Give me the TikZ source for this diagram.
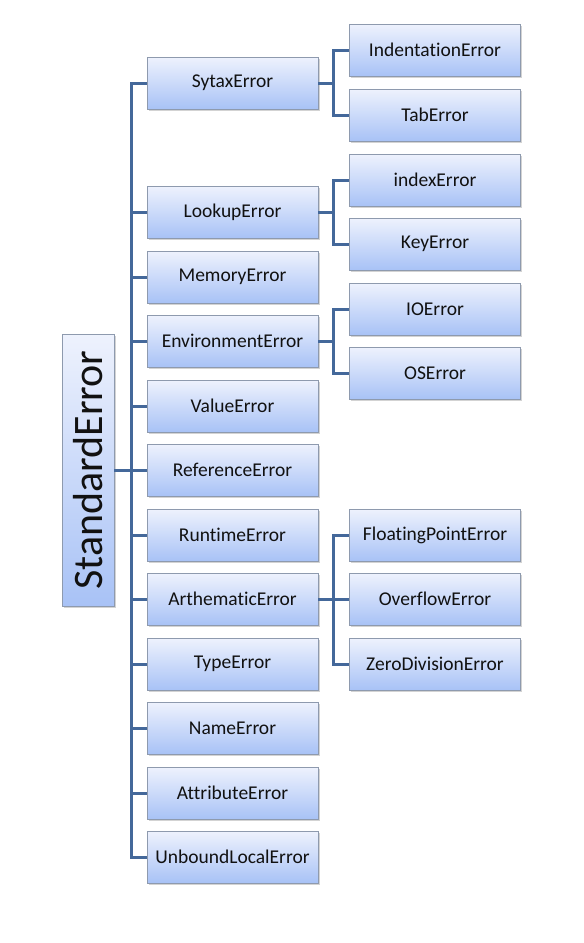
\documentclass[tikz,border=0pt]{standalone}
\usepackage{fontspec}
\setmainfont{Carlito}[Ligatures=NoCommon]
\usetikzlibrary{shadows}
\definecolor{linec}{HTML}{44689A}
\definecolor{boxtop}{HTML}{EEF2FD}
\definecolor{boxbot}{HTML}{A8C2F6}
\definecolor{boxborder}{HTML}{8E9AAE}
\definecolor{txt}{HTML}{111111}
\begin{document}
\begin{tikzpicture}[x=1pt,y=-1pt,
  box/.style={draw=boxborder, line width=0.7pt, top color=boxtop, bottom color=boxbot,
    minimum width=171pt, minimum height=52pt, inner sep=0pt, text=txt,
    font=\fontsize{19.5}{22}\selectfont,
    drop shadow={shadow xshift=1.5pt, shadow yshift=-2pt, opacity=0.35, fill=gray}},
  rootbox/.style={box, minimum width=52pt, minimum height=272pt, font=\fontsize{42}{44}\selectfont},
  conn/.style={draw=linec, line width=3pt}]
\useasboundingbox (0,0) rectangle (584,943);
\node[rootbox] (root) at (88,470) {\rotatebox{90}{StandardError}};
% middle column
\node[box] (syn) at (232.5,83) {SytaxError};
\node[box] (look) at (232.5,212) {LookupError};
\node[box] (mem) at (232.5,277) {MemoryError};
\node[box] (env) at (232.5,341) {EnvironmentError};
\node[box] (val) at (232.5,406) {ValueError};
\node[box] (ref) at (232.5,470) {ReferenceError};
\node[box] (run) at (232.5,535) {RuntimeError};
\node[box] (ari) at (232.5,599) {ArthematicError};
\node[box] (typ) at (232.5,664) {TypeError};
\node[box] (nam) at (232.5,728) {NameError};
\node[box] (att) at (232.5,793) {AttributeError};
\node[box] (unb) at (232.5,857) {UnboundLocalError};
% right column
\node[box] (ind) at (435,50) {IndentationError};
\node[box] (tab) at (435,115) {TabError};
\node[box] (idx) at (435,180) {indexError};
\node[box] (key) at (435,244) {KeyError};
\node[box] (ioe) at (435,309) {IOError};
\node[box] (ose) at (435,373) {OSError};
\node[box] (flo) at (435,535) {FloatingPointError};
\node[box] (ovf) at (435,599) {OverflowError};
\node[box] (zde) at (435,664) {ZeroDivisionError};
% connectors
\coordinate (trunk) at (131,470);
\foreach \m in {syn,look,mem,env,val,ref,run,ari,typ,nam,att,unb}{
  \draw[conn] (root.east) -- (trunk) |- (\m.west);
}
\coordinate (s1) at (333,83);
\draw[conn] (syn.east) -- (s1) |- (ind.west);
\draw[conn] (syn.east) -- (s1) |- (tab.west);
\coordinate (s2) at (333,212);
\draw[conn] (look.east) -- (s2) |- (idx.west);
\draw[conn] (look.east) -- (s2) |- (key.west);
\coordinate (s3) at (333,341);
\draw[conn] (env.east) -- (s3) |- (ioe.west);
\draw[conn] (env.east) -- (s3) |- (ose.west);
\coordinate (s4) at (333,599);
\draw[conn] (ari.east) -- (s4) |- (flo.west);
\draw[conn] (ari.east) -- (s4) |- (ovf.west);
\draw[conn] (ari.east) -- (s4) |- (zde.west);
\end{tikzpicture}
\end{document}
